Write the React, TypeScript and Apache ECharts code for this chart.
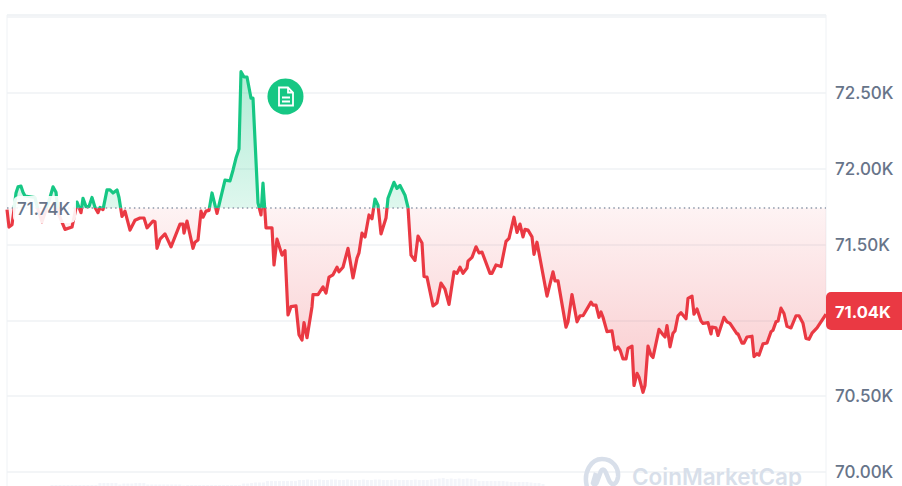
import React, { useEffect, useRef } from "react";
import * as echarts from "echarts";

const timeSteps = [0,2,5,7,9,11,14,16,18,28,31,35,38,43,46,49,51,58,65,68,70,74,76,79,82,85,88,91,93,96,100,103,106,110,112,115,118,123,128,133,137,140,146,148,150,153,158,164,173,176,177,180,186,188,191,194,196,199,202,205,210,218,223,226,229,232,234,237,240,244,246,251,254,256,259,265,267,270,275,278,281,284,289,292,295,297,300,305,306,311,316,319,322,326,330,332,336,341,346,350,352,355,358,362,365,368,371,374,379,381,387,390,393,398,401,404,408,411,415,417,420,426,430,434,438,442,447,450,453,456,460,461,465,469,472,475,483,485,489,494,499,502,507,510,513,516,518,521,525,527,530,540,546,548,551,559,561,565,570,573,576,584,586,589,592,594,596,600,605,608,611,613,616,619,621,625,627,630,632,636,638,641,644,646,652,656,658,660,663,666,668,671,674,679,681,685,687,690,694,696,701,704,705,709,711,717,720,723,730,731,735,737,740,745,747,750,752,756,760,764,766,769,771,774,777,780,784,789,792,796,799,802,805,810,819];
const prices = [71.73,71.615,71.63,71.73,71.84,71.88,71.885,71.845,71.82,71.81,71.73,71.65,71.71,71.81,71.88,71.845,71.71,71.6,71.615,71.71,71.78,71.71,71.805,71.75,71.75,71.81,71.745,71.71,71.745,71.73,71.86,71.86,71.84,71.86,71.81,71.685,71.72,71.595,71.66,71.675,71.675,71.61,71.655,71.65,71.475,71.535,71.57,71.485,71.635,71.635,71.575,71.655,71.475,71.515,71.53,71.72,71.68,71.72,71.725,71.84,71.705,71.925,71.92,71.99,72.07,72.13,72.64,72.605,72.605,72.465,72.465,71.775,71.695,71.905,71.61,71.61,71.365,71.535,71.43,71.46,71.035,71.09,71.095,70.905,70.87,70.985,70.885,71.09,71.17,71.17,71.22,71.18,71.285,71.3,71.35,71.32,71.35,71.475,71.28,71.41,71.445,71.575,71.55,71.695,71.67,71.8,71.76,71.57,71.675,71.805,71.91,71.87,71.89,71.825,71.745,71.43,71.395,71.555,71.51,71.29,71.285,71.095,71.115,71.245,71.205,71.105,71.32,71.31,71.35,71.31,71.345,71.39,71.415,71.485,71.445,71.45,71.31,71.31,71.365,71.355,71.52,71.54,71.68,71.58,71.635,71.55,71.6,71.595,71.55,71.435,71.515,71.16,71.32,71.26,71.26,70.955,70.99,71.17,70.99,71.03,71.03,71.12,71.1,71.1,71.02,71.055,71.02,70.925,70.93,70.805,70.825,70.805,70.745,70.745,70.815,70.83,70.57,70.65,70.625,70.525,70.57,70.83,70.77,70.755,70.94,70.905,70.89,70.965,70.825,70.915,70.93,71.03,71.05,71.01,71.145,71.16,71.04,71.075,70.995,70.98,70.985,70.91,70.955,70.95,70.9,71.02,70.99,70.98,70.91,70.91,70.85,70.85,70.89,70.895,70.76,70.78,70.77,70.845,70.85,70.925,70.935,70.99,70.995,71.08,71.045,70.96,70.95,71.03,71.03,70.98,70.88,70.875,70.915,70.95,71.04];
const volumes = [1,1,1,1,1,1,1,1,1,1,1,1,3,3,3,3,3,1.5,2.5,2.5,2.5,3,3,3,1.5,1.5,1.5,1.5,1.5,1.5,1.5,1.5,1.5,0.5,1,1,1,1,1,1,1,1,1,1,1,1,1,1,2.5,2.5,3,3.5,3.5,3.5,5,5,5,5,5,5,5,5,6,6,6.5,6,6,6.5,6,6,6.5,6.5,6,6,6.5,6,6,6,6.5,6,6,6.5,6.5,6,6,6,6.5,6,6,6,6,6.5,6,6,6,6.5,7,7.5,8,7,7.5,7,7.5,7,7.5,7,7,5,5,5,5,5,5,5,4.5,4,4,4,4,4,3.5,3,3,2];
const tickLabels = ["70.00K", "70.50K", "71.00K", "71.50K", "72.00K", "72.50K"];
const hiddenTicks = ["71.00K"];
const baseline = 71.74;
const axisFloor = 69.5;
const axisCeil = 73.014;
const baselineLabel = "71.74K";
const lastLabel = "71.04K";
const brand = "CoinMarketCap";

const GREEN = "#16c784";
const RED = "#ea3943";
const GRID = "#eff2f5";
const TEXT = "#677489";
const FONT = "Inter";

echarts.graphic.registerShape("cmcLogo", echarts.graphic.extendPath(
  "M4 31 C0 16 8 3 19 3 C30 3 36 12 35 21 C34 28 30 30 27 26 C25 23 24 18 22 15 C21 13 19 13 18 15 L14 26 C13 29 11 29 10 27 L13 17",
  {}
));
echarts.graphic.registerShape("docIcon", echarts.graphic.extendPath(
  "M0 0 H9 L14 5 V18 H0 Z M9 0 V5 H14 M3 10 H11 M3 14 H11",
  {}
));

export default function App() {
  const ref = useRef<HTMLDivElement>(null);
  useEffect(() => {
    const chart = echarts.init(ref.current!, null, { renderer: "svg" });
    const gTop = 70, gBottom = 395, by = 208;
    const off = (by - gTop) / (gBottom - gTop);
    chart.setOption({
      animation: false,
      backgroundColor: "#fff",
      grid: [
        { left: 7, top: 15, width: 819, height: 532.7, show: true, borderColor: GRID, borderWidth: 1, backgroundColor: "transparent" },
        { left: 50, top: 436, width: 495, height: 50 },
      ],
      xAxis: [
        { type: "value", gridIndex: 0, min: 0, max: 819, show: false },
        { type: "category", gridIndex: 1, data: volumes.map((_, i) => i), show: false },
      ],
      yAxis: [
        {
          type: "value", gridIndex: 0, position: "right", min: axisFloor, max: axisCeil, interval: 0.5,
          axisLine: { show: false }, axisTick: { show: false },
          splitLine: { show: true, lineStyle: { color: GRID, width: 1.5 } },
          axisLabel: {
            show: true, margin: 9, color: TEXT, fontFamily: FONT, fontSize: 17, fontWeight: 500,
            formatter: (v: number) => {
              const s = v.toFixed(2) + "K";
              return tickLabels.includes(s) && !hiddenTicks.includes(s) ? s : "";
            },
          },
        },
        { type: "value", gridIndex: 1, min: 0, max: 50, show: false },
      ],
      visualMap: {
        show: false, seriesIndex: 0, dimension: 1,
        pieces: [
          { min: baseline, max: axisCeil, color: GREEN },
          { min: axisFloor, max: baseline, color: RED },
        ],
      },
      series: [
        {
          type: "line", xAxisIndex: 0, yAxisIndex: 0, z: 3, symbol: "none", showSymbol: false,
          data: timeSteps.map((t, i) => [t, prices[i]]),
          lineStyle: { width: 3.2, join: "round" },
          areaStyle: {
            origin: baseline,
            opacity: 1,
            color: new echarts.graphic.LinearGradient(0, gTop, 0, gBottom, [
              { offset: 0, color: "rgba(22,199,132,0.34)" },
              { offset: off, color: "rgba(22,199,132,0.14)" },
              { offset: off, color: "rgba(234,57,67,0.06)" },
              { offset: 1, color: "rgba(234,57,67,0.27)" },
            ], true),
          },
          markLine: {
            silent: true, symbol: "none", label: { show: false },
            lineStyle: { color: "#8d97a8", type: [1.5, 3.2], width: 1.5 },
            data: [{ yAxis: baseline }],
          },
        },
        {
          type: "bar", xAxisIndex: 1, yAxisIndex: 1, z: 1, barWidth: 3,
          data: volumes, itemStyle: { color: "#f3f5fa" },
        },
      ],
      graphic: [
        { type: "rect", z: 100, shape: { x: 13, y: 196, width: 63, height: 27, r: 6 }, style: { fill: "rgba(255,255,255,0.9)" } },
        { type: "text", z: 101, x: 17, y: 209, style: { text: baselineLabel, fill: TEXT, font: `500 17px ${FONT}`, textVerticalAlign: "middle" } },
        { type: "circle", z: 100, shape: { cx: 285.5, cy: 96.5, r: 18 }, style: { fill: GREEN } },
        { type: "docIcon", z: 101, x: 279, y: 87.5, style: { fill: "transparent", stroke: "#fff", lineWidth: 1.8 } },
        { type: "rect", z: 100, shape: { x: 826, y: 292, width: 80, height: 38, r: 5 }, style: { fill: RED } },
        { type: "text", z: 101, x: 835, y: 311.5, style: { text: lastLabel, fill: "#fff", font: `700 16.5px ${FONT}`, textVerticalAlign: "middle" } },
        { type: "cmcLogo", z: 100, x: 583, y: 456, style: { fill: "transparent", stroke: "#d8dfea", lineWidth: 4.5 } },
        { type: "text", z: 100, x: 632, y: 476, style: { text: brand, fill: "#d8dfea", font: `600 22.5px ${FONT}`, textVerticalAlign: "middle" } },
      ],
    });
    return () => chart.dispose();
  }, []);
  return (
    <div style={{ position: "absolute", left: 0, top: 0, width: 902, height: 486, overflow: "hidden" }}>
      <div ref={ref} style={{ width: 902, height: 560 }} />
    </div>
  );
}
